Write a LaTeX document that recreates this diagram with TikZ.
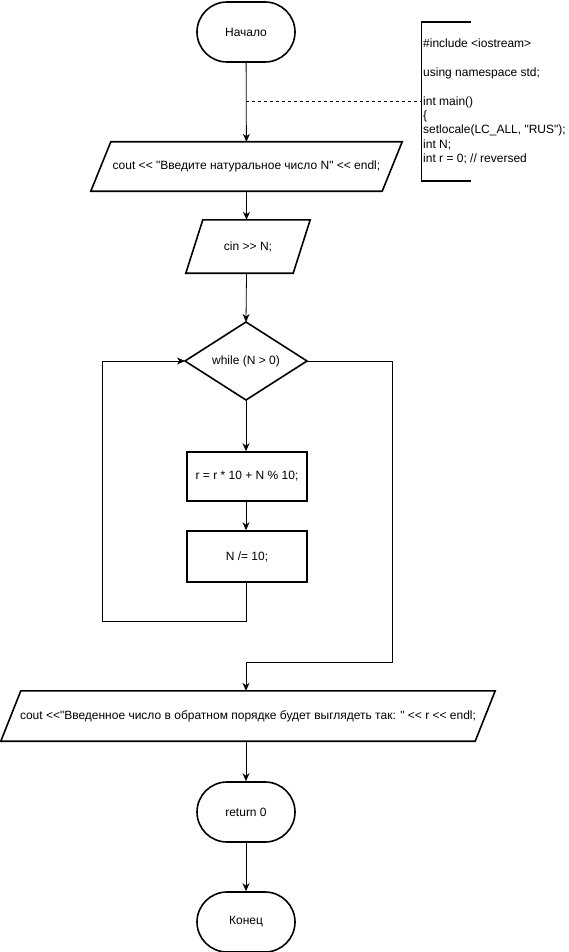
\documentclass[tikz,border=0pt]{standalone}
\usepackage{fontspec}
\newfontfamily\arial{Liberation Sans}
\usetikzlibrary{arrows.meta,calc}
\newcommand\ioshape[2]{\draw[line width=1.6pt] ($(#1.north west)+(#2,0)$) -- (#1.north east) -- ($(#1.south east)-(#2,0)$) -- (#1.south west) -- cycle;}

\begin{document}
\begin{tikzpicture}[x=1pt,y=-1pt,font=\arial\fontsize{12}{14.4}\selectfont,
  term/.style={draw,line width=1.6pt,rounded corners=30pt,minimum width=98pt,minimum height=60pt,inner sep=0pt},
  io/.style={rectangle,inner sep=0pt},
  proc/.style={draw,line width=1.6pt,rectangle,minimum width=120pt,inner sep=0pt},
  line/.style={line width=0.8pt,-{Stealth[length=8pt,width=7pt,inset=2.5pt]}}]
\useasboundingbox (0,0) rectangle (568,952);
\node[term] (start) at (246,32) {Начало};
\node[io,minimum width=311pt,minimum height=49pt] (out1) at (246.5,166.5) {cout << "Введите натуральное число N" << endl;};
\ioshape{out1}{20}
\node[io,minimum width=124pt,minimum height=53pt] (inN) at (248,246.5) {cin >> N;};
\ioshape{inN}{17}
\draw[line width=1.6pt] (185,361) coordinate (loopW) -- (246,322) coordinate (loopN) -- (307,361) coordinate (loopE) -- (246,400) coordinate (loopS) -- cycle;
\node (loop) at (246,361) {while (N > 0)};
\node[proc,minimum height=49pt] (body1) at (247,476.5) {r = r * 10 + N \% 10;};
\node[proc,minimum height=51pt] (body2) at (247,556.5) {N /= 10;};
\node[io,minimum width=494pt,minimum height=50pt] (out2) at (248,716) {cout <<"Введенное число в обратном порядке будет выглядеть так: " << r << endl;};
\ioshape{out2}{20}
\node[term] (ret) at (246,812) {return 0};
\node[term] (stop) at (246,922) {Конец};
\node[anchor=west,align=left,inner xsep=1.5pt,inner ysep=0pt,minimum height=159pt] (code) at (421.5,101.5) {\#include <iostream>\\ \\using namespace std;\\ \\int main()\\\{\\setlocale(LC\_ALL, "RUS");\\int N;\\int r = 0; // reversed};
\draw[line width=1.6pt] ($(code.north west)+(49,0)$) -- (code.north west) -- (code.south west) -- ++(49,0);
\coordinate (dsh) at (start.south |- code.west);
\draw[dashed,line width=0.8pt] (dsh) -- (code.west);
\draw[line] (start) -- (out1);
\draw[line] (out1.south) -- (inN.north -| out1.south);
\draw[line] (inN.south -| out1.south) -- (loopN);
\draw[line] (loopS) -- (body1.north -| loopS);
\draw[line] (body1.south -| loopS) -- (body2.north -| loopS);
\coordinate (back) at (102,621);
\draw[line] (body2.south -| loopS) |- (back) |- (loopW);
\coordinate (exit) at (392,662);
\draw[line] (loopE) -| (exit) -| (out2.north -| loopS);
\draw[line] (out2.south -| loopS) -- (ret);
\draw[line] (ret) -- (stop);
\end{tikzpicture}
\end{document}
